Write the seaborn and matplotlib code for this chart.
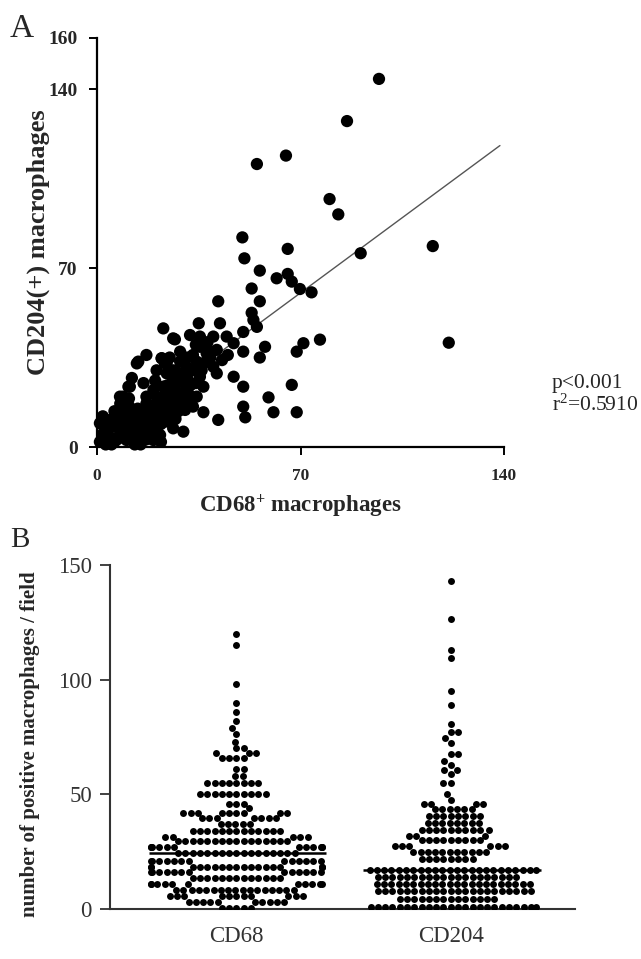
import numpy as np
import pandas as pd
import matplotlib
matplotlib.use("Agg")
import matplotlib.pyplot as plt
import seaborn as sns

sns.set_theme(style="white")
plt.rcParams['font.family'] = ['Liberation Serif', 'DejaVu Serif']
plt.rcParams['mathtext.fontset'] = 'custom'
plt.rcParams['mathtext.rm'] = 'Liberation Serif'
plt.rcParams['mathtext.it'] = 'Liberation Serif:italic'
plt.rcParams['mathtext.bf'] = 'Liberation Serif:bold'

# ---------------- Panel A data (CD68 vs CD204, per case) ----------------
a_cd68 = [97, 86, 65, 55, 80, 83, 115.5, 90.7, 121, 50, 65.6, 50.7, 56, 61.8, 65.6, 67, 69.8,
          73.8, 53.2, 41.7, 56, 53.2, 53.8, 55, 50.3, 42.3, 35, 22.8, 26.2, 32, 35.4, 40, 44.6,
          47, 50.3, 57.8, 56, 68.7, 71, 76.7, 35.4, 28.6, 37.7, 41.2, 17, 13.7, 22.3, 23.4, 28.6,
          34.3, 30.8, 40, 41.2, 47, 50.3, 59, 67, 50.3, 51, 60.7, 68.7, 36.6, 41.7, 29.7, 24,
          11.3, 9, 35.4, 36.6, 34.3, 33, 29, 22.8, 20.5, 17, 24, 28.6, 30.3, 26.2, 21.7, 16,
          12.5, 18.2, 24, 26.2, 20.5, 16, 10.2, 6.8, 4.5, 1, 2.2, 1, 5.6, 10.2, 13.6, 19.4,
          21.7, 8, 13.7, 18.2, 4.5, 17, 19.4, 25.7, 30.8, 26.2, 20.5,
          3, 6, 8, 11, 12, 14, 15, 17, 3, 7, 9, 14, 15, 19, 22, 23, 25, 27, 27, 29, 31, 32,
          24, 26, 21, 19, 11, 28, 33, 37, 39, 33, 31, 25, 14.2, 7.9, 10.8, 22.2, 26.8,
          2, 4, 5, 7, 9, 10, 12, 13, 15, 16, 18, 19, 21, 22, 23, 2, 6, 8, 11, 14, 17, 20, 23,
          26, 28, 30, 32, 34, 36, 38, 12, 16, 20, 24, 27, 31, 34, 38, 43, 45]
a_cd204 = [144, 127.5, 114, 110.7, 97, 91, 78.6, 75.8, 40.8, 82, 77.5, 73.8, 69, 66, 67.7, 64.7, 61.8,
           60.5, 62, 57, 57, 52.5, 49.7, 47, 45, 48.4, 48.4, 46.4, 42.5, 43.8, 43.2, 43.2, 43.2,
           40.6, 37.3, 39.2, 35, 37.3, 40.6, 42, 39.2, 37.3, 36.7, 38, 36, 32.7, 34.7, 32.7, 33.4,
           33.4, 31.4, 31.4, 28.8, 27.5, 23.6, 19.4, 24.3, 15.8, 11.6, 13.6, 13.6, 13.6, 10.6, 6, 28.8,
           23.6, 19.7, 27.5, 23.6, 19.7, 15.8, 25.5, 23.6, 19.7, 17, 17, 18.4, 14.5, 13.2, 14.5, 13.2,
           12, 10.6, 10, 7.3, 6.6, 5.4, 6.6, 8, 10.6, 9.3, 5.4, 2, 3.4, 2.7, 3.4, 2.7,
           4.7, 5.4, 8, 8, 1.4, 19.7, 22.3, 21, 22.3, 30, 30,
           6, 2, 10, 4, 9, 6, 1, 3, 1, 12, 14, 15, 10, 13, 9, 12, 15, 11, 18, 21, 27, 24,
           24, 26, 17, 16, 16, 29, 30, 33, 35, 36, 35, 35, 33.4, 19.7, 23.6, 34.7, 42.1,
           4, 7, 1, 3, 8, 11, 5, 1, 8, 11, 4, 15, 9, 2, 20, 12, 14, 17, 19, 2, 12, 13, 17,
           19, 14, 18, 20, 25, 30, 38, 27, 25, 26, 33, 22, 29, 40, 41, 34, 36]
trend_slope = 0.84
trend_intercept = 1.5
trend_x_range = [0, 138.6]
a_xticks = [0, 70, 140]
a_yticks = [0, 70, 140, 160]

# ---------------- Panel B data (positive macrophages / field) ----------------
groups = ["CD68", "CD204"]
cd68_field = [120, 115, 98, 90, 86, 82, 79, 76.5, 73, 70, 70, 68, 68, 68, 66, 66, 66, 66,
              61, 61, 58, 58,
              55, 55, 55, 55, 55, 55, 55, 55,
              50, 50, 50, 50, 50, 50, 50, 50, 50, 50,
              46, 46, 46, 44,
              42, 42, 42, 42, 42, 42, 42, 42, 42,
              39.5, 39.5, 39.5, 39.5, 39.5, 39.5, 39.5,
              37, 37, 37, 37, 37,
              34, 34, 34, 34, 34, 34, 34, 34, 34, 34, 34, 34, 34,
              31.5, 31.5, 31.5, 31.5, 31.5,
              29.5, 29.5, 29.5, 29.5, 29.5, 29.5, 29.5, 29.5, 29.5, 29.5, 29.5, 29.5, 29.5, 29.5, 29.5, 29.5,
              27, 27, 27, 27, 27, 27, 27, 27, 27, 27, 27, 27,
              24.5, 24.5, 24.5, 24.5, 24.5, 24.5, 24.5, 24.5, 24.5, 24.5, 24.5, 24.5, 24.5, 24.5, 24.5, 24.5, 24.5,
              21, 21, 21, 21, 21, 21, 21, 21, 21, 21, 21, 21, 21,
              18.5, 18.5, 18.5, 18.5, 18.5, 18.5, 18.5, 18.5, 18.5, 18.5, 18.5, 18.5, 18.5, 18.5, 18.5, 18.5, 18.5, 18.5,
              16, 16, 16, 16, 16, 16, 16, 16, 16, 16, 16, 16, 16,
              13.5, 13.5, 13.5, 13.5, 13.5, 13.5, 13.5, 13.5, 13.5, 13.5, 13.5, 13.5, 13.5,
              11, 11, 11, 11, 11, 11, 11, 11, 11, 11, 11,
              8.5, 8.5, 8.5, 8.5, 8.5, 8.5, 8.5, 8.5, 8.5, 8.5, 8.5, 8.5, 8.5, 8.5, 8.5, 8.5, 8.5,
              5.5, 5.5, 5.5, 5.5, 5.5, 5.5, 5.5, 5.5, 5.5, 5.5, 5.5,
              3, 3, 3, 3, 3, 3, 3, 3, 3, 3,
              0.5, 0.5, 0.5, 0.5, 0.5]
cd204_field = [143, 126.5, 113, 109.5, 95, 89, 80.5, 77, 77, 74.5, 72.5, 67.5, 67.5, 64.5, 63,
               60.5, 60.5, 59, 55, 55, 50, 47.5,
               46, 46, 46, 46,
               43.5, 43.5, 43.5, 43.5, 43.5, 43.5,
               40.5, 40.5, 40.5, 40.5, 40.5, 40.5, 40.5, 40.5,
               37.5, 37.5, 37.5, 37.5, 37.5, 37.5, 37.5, 37.5,
               34.5, 34.5, 34.5, 34.5, 34.5, 34.5, 34.5, 34.5, 34.5, 34.5,
               32, 32, 32,
               30, 30, 30, 30, 30, 30, 30, 30, 30,
               27.5, 27.5, 27.5, 27.5, 27.5, 27.5,
               25, 25, 25, 25, 25, 25, 25, 25, 25, 25, 25,
               22, 22, 22, 22, 22, 22, 22, 22,
               17, 17, 17, 17, 17, 17, 17, 17, 17, 17, 17, 17, 17, 17, 17, 17, 17, 17, 17, 17, 17, 17, 17, 17,
               14, 14, 14, 14, 14, 14, 14, 14, 14, 14, 14, 14, 14, 14, 14, 14, 14, 14, 14, 14,
               11, 11, 11, 11, 11, 11, 11, 11, 11, 11, 11, 11, 11, 11, 11, 11, 11, 11, 11, 11, 11, 11,
               8, 8, 8, 8, 8, 8, 8, 8, 8, 8, 8, 8, 8, 8, 8, 8, 8, 8, 8, 8, 8, 8,
               4.5, 4.5, 4.5, 4.5, 4.5, 4.5, 4.5, 4.5, 4.5, 4.5, 4.5, 4.5, 4.5, 4.5,
               1, 1, 1, 1, 1, 1, 1, 1, 1, 1, 1, 1, 1, 1, 1, 1, 1, 1, 1, 1, 1, 1, 1, 1]
b_yticks = [0, 50, 100, 150]

W, H = 641, 959
fig = plt.figure(figsize=(W / 100, H / 100), dpi=100)
fig.patch.set_facecolor("white")

# ---------------- Panel A ----------------
axA = fig.add_axes([97 / W, 1 - 447 / H, 407 / W, 409 / H])
sns.scatterplot(x=a_cd68, y=a_cd204, ax=axA, color="black", s=78, edgecolor="none",
                linewidth=0, clip_on=False, zorder=3)
trend_y = [trend_intercept + trend_slope * v for v in trend_x_range]
sns.lineplot(x=trend_x_range, y=trend_y, ax=axA, color="#555555", linewidth=1.0, zorder=2)
axA.set_xlim(0, 140)
axA.set_ylim(0, 160)
axA.set_xticks(a_xticks)
axA.set_yticks(a_yticks)
for sp in ["top", "right"]:
    axA.spines[sp].set_visible(False)
for sp in ["left", "bottom"]:
    axA.spines[sp].set_color("black")
    axA.spines[sp].set_linewidth(1.6)
axA.tick_params(axis="both", direction="out", length=6, width=1.4, color="black",
                left=True, bottom=True)
axA.tick_params(axis="y", labelsize=14, pad=8)
axA.tick_params(axis="x", labelsize=12.5, pad=9)
for lab in axA.get_xticklabels() + axA.get_yticklabels():
    lab.set_fontweight("bold")
axA.set_xlabel(r"CD68$^{\mathbf{+}}$ macrophages", fontsize=16.5, fontweight="bold", labelpad=6)
axA.set_ylabel("CD204(+) macrophages", fontsize=19, fontweight="bold")
axA.yaxis.set_label_coords((50 - 97) / 407, 0.5)
axA.grid(False)

fig.text(10 / W, 1 - 37 / H, "A", fontsize=24, va="baseline", ha="left")
fig.text(552 / W, 1 - 388 / H, "p<0.001", fontsize=15.5, va="baseline", ha="left")
fig.text(552 / W, 1 - 411 / H, r"r$^{2}$=0.5910", fontsize=15.5, va="baseline", ha="left")

# ---------------- Panel B ----------------
axB = fig.add_axes([110 / W, 1 - 909 / H, 465 / W, 344 / H])
dfB = pd.DataFrame({
    "group": [groups[0]] * len(cd68_field) + [groups[1]] * len(cd204_field),
    "value": cd68_field + cd204_field,
})
sns.swarmplot(data=dfB, x="group", y="value", order=groups, ax=axB, color="black",
              size=5.0, linewidth=0, zorder=3, warn_thresh=1.0)
for i, vals in enumerate([cd68_field, cd204_field]):
    axB.hlines(np.median(vals), i - 0.41, i + 0.42, color="black", linewidth=1.8, zorder=4)
axB.set_xlim(-0.59, 1.58)
axB.set_ylim(0, 150)
axB.set_yticks(b_yticks)
for sp in ["top", "right"]:
    axB.spines[sp].set_visible(False)
for sp in ["left", "bottom"]:
    axB.spines[sp].set_color("#333333")
    axB.spines[sp].set_linewidth(1.5)
axB.tick_params(axis="y", direction="out", length=7, width=1.3, color="#333333",
                labelsize=16.5, labelcolor="#333333", pad=6, left=True)
axB.tick_params(axis="x", length=0, labelsize=16.5, labelcolor="#333333", pad=12)
axB.set_xlabel("")
axB.set_ylabel("number of positive macrophages / field", fontsize=15, fontweight="bold")
axB.yaxis.set_label_coords((40 - 110) / 465, 0.48)
axB.grid(False)

fig.text(10 / W, 1 - 547 / H, "B", fontsize=21, va="baseline", ha="left")

fig.savefig("out.png", dpi=100, facecolor="white")
